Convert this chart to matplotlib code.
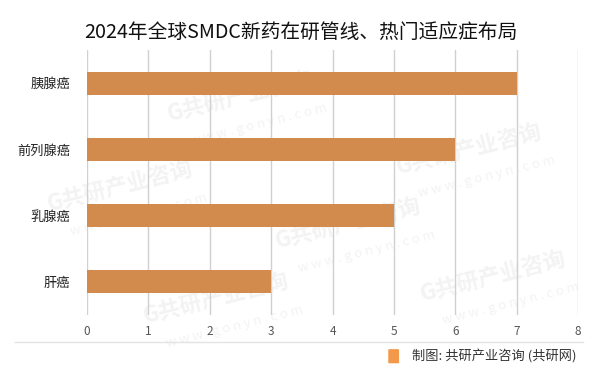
import numpy as np
import matplotlib.pyplot as plt
from matplotlib.patches import FancyBboxPatch

plt.rcParams['font.family'] = ['Noto Sans CJK SC', 'DejaVu Sans']

# data, top to bottom
diseases = ['胰腺癌', '前列腺癌', '乳腺癌', '肝癌']
counts = [7, 6, 5, 3]
xticks = list(range(0, 9))

title = '2024年全球SMDC新药在研管线、热门适应症布局'
source = '制图: 共研产业咨询 (共研网)'

fig = plt.figure(figsize=(6.01, 3.73), dpi=100)

# faint watermarks in the background
wm_pos = [(0.40, 0.74), (0.78, 0.60), (0.20, 0.50), (0.58, 0.40),
          (0.36, 0.20), (0.82, 0.26)]
for wx, wy in wm_pos:
    fig.text(wx, wy, 'G共研产业咨询', fontsize=16, fontweight='bold', color='#f3f3f3',
             rotation=14, ha='center', va='center', zorder=0)
    fig.text(wx + 0.03, wy - 0.075, 'w w w . g o n y n . c o m', fontsize=9.5, color='#f3f3f3',
             rotation=14, ha='center', va='center', zorder=0)

ax = fig.add_axes([0.1448, 0.1555, 0.8169, 0.7105])
ax.set_zorder(2)
ax.patch.set_alpha(0)
y = np.arange(len(diseases))
ax.barh(y, counts, height=0.35, color='#D38B4D', zorder=3)
ax.set_ylim(len(diseases) - 0.5, -0.5)
ax.set_xlim(0, 8)
ax.set_xticks(xticks)
ax.set_yticks(y)
ax.set_yticklabels(diseases, fontsize=9.5)
ax.tick_params(axis='x', labelsize=8.5, colors='#555555', length=0, pad=7)
ax.tick_params(axis='y', length=0, pad=12, colors='#222222')
ax.grid(axis='x', color='#d0d0d0', linewidth=1, zorder=0)
for s in ax.spines.values():
    s.set_visible(False)

fig.text(0.5, 0.913, title, fontsize=14.2, ha='center', va='center', color='#111111')

# bottom separator and source note
fig.add_artist(plt.Line2D([0.025, 0.970], [0.083, 0.083], color='#e3e3e3', linewidth=1))
fig.add_artist(FancyBboxPatch((0.648, 0.028), 0.014, 0.034, boxstyle='round,pad=0.002',
                              transform=fig.transFigure, facecolor='#F2994A', edgecolor='none'))
fig.text(0.685, 0.043, source, fontsize=9.5, ha='left', va='center', color='#333333')

fig.savefig('out.png', dpi=100)
